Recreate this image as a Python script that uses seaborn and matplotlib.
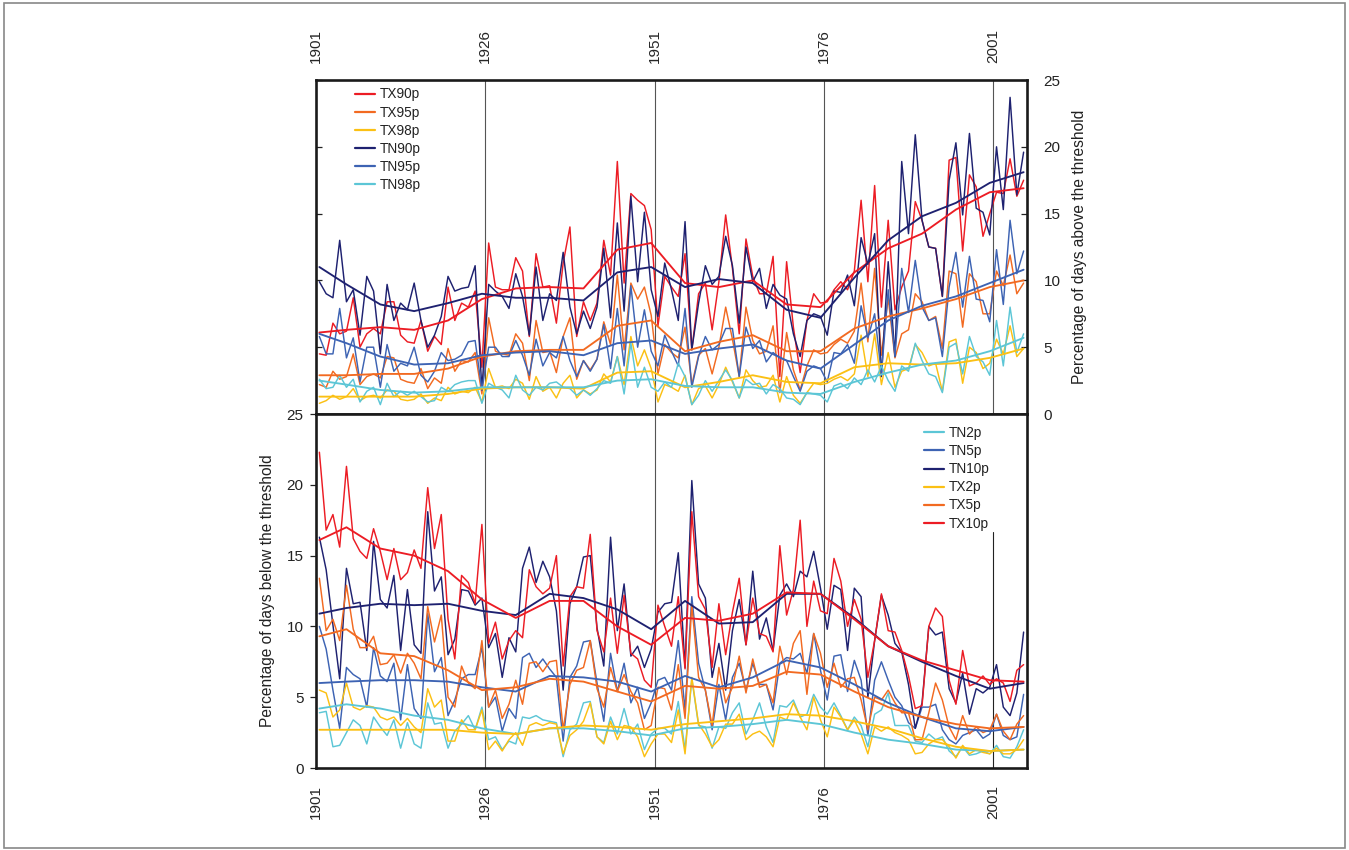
import matplotlib
matplotlib.use("Agg")
import matplotlib.pyplot as plt
import seaborn as sns
import pandas as pd
from matplotlib.patches import Rectangle
from matplotlib.lines import Line2D

# ---------------- data ----------------
years = list(range(1901, 2006))
tick_years = [1901, 1926, 1951, 1976, 2001]
smooth_years = [1901, 1905, 1910, 1915, 1920, 1925, 1930, 1935, 1940, 1945, 1950,
                1955, 1960, 1965, 1970, 1975, 1980, 1985, 1990, 1995, 2000, 2005]

# upper panel: percentage of days above the threshold
TX90p = [4.5, 4.4, 6.8, 6.0, 6.2, 8.7, 5.0, 6.0, 6.4, 6.0,
         8.4, 8.4, 5.9, 5.4, 5.3, 7.0, 4.7, 5.8, 5.2, 9.5,
         7.0, 8.3, 8.0, 9.2, 3.5, 12.8, 9.5, 9.3, 9.3, 11.7,
         10.7, 5.8, 12.0, 9.5, 9.6, 6.8, 11.3, 14.0, 5.8, 8.4,
         7.0, 8.3, 13.0, 10.4, 18.9, 9.8, 16.5, 16.0, 15.6, 13.8,
         6.6, 10.3, 9.5, 8.8, 12.0, 4.8, 9.0, 9.8, 6.3, 9.9,
         14.9, 10.9, 6.0, 13.1, 10.3, 9.0, 9.0, 11.8, 2.8, 11.4,
         6.5, 3.1, 7.0, 9.0, 8.3, 8.4, 9.3, 9.9, 9.3, 10.7,
         16.0, 9.9, 17.1, 8.0, 14.5, 7.8, 9.5, 10.7, 15.9, 14.5,
         12.5, 12.4, 8.8, 19.0, 19.2, 12.2, 17.9, 17.0, 13.3, 15.0,
         16.6, 16.5, 19.1, 16.3, 17.5]
TX95p = [2.2, 2.0, 3.2, 2.6, 2.8, 4.5, 2.2, 2.8, 3.0, 2.7,
         4.3, 4.2, 2.6, 2.4, 2.3, 3.4, 1.9, 2.7, 2.3, 4.9,
         3.2, 4.0, 3.9, 4.6, 1.5, 7.2, 4.7, 4.5, 4.4, 6.0,
         5.3, 2.5, 7.0, 4.6, 4.7, 3.1, 5.8, 7.2, 2.6, 4.0,
         3.3, 4.1, 6.9, 5.2, 10.4, 4.8, 9.8, 8.6, 9.5, 7.4,
         3.0, 5.2, 4.6, 4.2, 6.5, 2.2, 4.4, 4.9, 3.0, 5.0,
         8.0, 5.6, 2.8, 8.0, 5.5, 4.5, 4.7, 6.6, 1.6, 6.1,
         3.3, 1.8, 3.6, 4.8, 4.5, 4.6, 5.2, 5.6, 5.3, 6.2,
         9.8, 5.4, 10.9, 4.4, 8.7, 4.2, 6.0, 6.3, 9.0, 8.4,
         7.0, 7.3, 4.9, 10.7, 10.5, 6.5, 10.5, 9.9, 7.5, 7.5,
         10.7, 9.6, 11.9, 9.0, 9.8]
TX98p = [0.8, 1.0, 1.4, 1.1, 1.3, 1.9, 1.0, 1.3, 1.4, 1.2,
         1.8, 1.7, 1.1, 1.0, 1.1, 1.5, 0.8, 1.2, 1.0, 2.0,
         1.5, 1.7, 1.6, 2.0, 0.9, 3.4, 2.0, 2.1, 1.9, 2.6,
         2.3, 1.1, 2.8, 1.7, 2.0, 1.2, 2.3, 2.9, 1.2, 1.8,
         1.5, 1.8, 3.0, 2.4, 4.3, 2.2, 5.8, 3.6, 4.8, 3.4,
         0.9, 2.2, 2.0, 1.7, 2.9, 0.7, 1.9, 2.1, 1.2, 2.2,
         3.5, 2.4, 1.2, 3.3, 2.5, 2.0, 2.1, 2.9, 0.9, 2.8,
         1.4, 0.8, 1.6, 2.3, 2.2, 2.3, 2.6, 2.8, 2.5, 3.0,
         5.9, 2.8, 6.0, 2.2, 4.6, 2.0, 3.2, 3.4, 5.2, 4.6,
         3.6, 3.8, 1.7, 5.4, 5.6, 2.3, 5.0, 4.6, 3.4, 3.8,
         5.6, 4.5, 6.6, 4.3, 4.9]
TN90p = [9.9, 9.0, 8.7, 13.0, 8.4, 9.3, 5.9, 10.3, 9.2, 4.5,
         9.7, 7.0, 8.3, 7.8, 9.8, 7.0, 5.0, 5.9, 7.3, 10.3,
         9.2, 9.4, 9.5, 11.1, 1.8, 9.7, 9.2, 8.8, 7.9, 10.5,
         8.8, 5.9, 11.0, 7.0, 9.0, 8.5, 12.1, 8.0, 6.0, 7.7,
         6.4, 8.0, 12.4, 7.2, 14.3, 7.7, 16.3, 9.9, 15.1, 9.3,
         7.3, 11.3, 9.3, 7.0, 14.4, 4.8, 8.3, 11.1, 9.7, 10.3,
         13.3, 11.1, 6.8, 12.5, 9.9, 10.9, 7.9, 9.7, 8.9, 8.6,
         6.0, 4.3, 7.0, 7.5, 7.3, 5.9, 9.2, 9.1, 10.4, 8.1,
         13.2, 11.2, 13.5, 2.8, 11.4, 4.3, 18.9, 13.5, 20.9, 14.5,
         12.5, 12.4, 8.8, 17.5, 20.3, 14.9, 21.0, 15.4, 15.1, 13.4,
         20.0, 15.3, 23.7, 16.4, 19.6]
TN95p = [5.8, 4.5, 4.5, 7.9, 4.2, 5.7, 2.4, 5.0, 5.0, 2.0,
         5.2, 3.2, 3.8, 3.6, 5.0, 2.9, 2.4, 3.2, 4.6, 4.0,
         4.1, 4.4, 5.4, 5.5, 1.8, 5.0, 5.0, 4.3, 4.3, 5.5,
         4.4, 2.9, 5.6, 3.6, 4.6, 4.2, 5.8, 4.0, 2.8, 4.0,
         3.2, 4.1, 6.7, 3.4, 7.9, 3.6, 9.6, 5.0, 7.8, 4.7,
         3.6, 5.9, 4.7, 3.6, 7.9, 2.0, 4.3, 5.8, 4.8, 5.2,
         6.4, 6.4, 2.8, 6.5, 4.9, 5.5, 3.9, 4.6, 4.2, 4.0,
         2.8, 1.7, 3.2, 3.6, 3.4, 2.4, 4.6, 4.5, 5.2, 3.8,
         8.1, 5.7, 7.5, 3.0, 9.3, 4.3, 10.9, 7.6, 11.5, 8.0,
         7.0, 7.2, 4.3, 9.5, 12.1, 8.0, 11.8, 8.6, 8.5, 6.9,
         12.3, 8.2, 14.5, 10.5, 12.2]
TN98p = [2.6, 1.9, 2.0, 2.9, 2.0, 2.6, 0.9, 1.7, 2.0, 0.7,
         2.3, 1.3, 1.7, 1.4, 1.7, 1.3, 0.9, 1.0, 2.0, 1.7,
         2.2, 2.4, 2.5, 2.5, 0.8, 2.3, 2.0, 1.8, 1.2, 2.9,
         1.8, 1.4, 2.0, 1.8, 2.3, 2.4, 2.0, 1.9, 1.4, 1.8,
         1.4, 1.9, 2.5, 2.3, 4.3, 1.5, 5.3, 2.0, 3.5, 2.0,
         1.7, 2.4, 2.0, 3.8, 2.8, 0.7, 1.4, 2.5, 1.7, 2.5,
         3.3, 2.5, 1.2, 2.6, 2.2, 2.3, 1.5, 2.2, 1.9, 1.2,
         1.1, 0.7, 1.6, 1.5, 1.4, 0.9, 2.1, 2.3, 1.9, 2.7,
         2.2, 3.3, 2.4, 3.6, 2.5, 1.7, 3.6, 3.2, 5.3, 4.0,
         3.0, 2.8, 1.6, 5.0, 5.3, 3.0, 5.8, 4.3, 3.9, 2.9,
         7.0, 3.6, 8.0, 4.6, 6.0]

# smoothed curves of the upper panel (read every ~5 years)
TX90p_s = [6.1, 6.3, 6.5, 6.3, 7.0, 8.6, 9.4, 9.5, 9.4, 12.3, 12.8,
           9.8, 9.5, 10.0, 8.2, 8.0, 10.6, 12.4, 13.5, 15.3, 16.6, 16.9]
TX95p_s = [2.9, 2.9, 3.0, 3.0, 3.4, 4.3, 4.7, 4.8, 4.8, 6.6, 7.0,
           4.7, 5.4, 5.9, 4.7, 4.7, 6.4, 7.3, 7.9, 8.6, 9.5, 10.0]
TX98p_s = [1.3, 1.3, 1.3, 1.3, 1.5, 1.9, 2.0, 2.0, 1.9, 3.1, 3.2,
           2.0, 2.4, 2.9, 2.4, 2.3, 3.5, 3.8, 3.7, 3.8, 4.2, 4.9]
TN90p_s = [11.0, 9.7, 8.2, 7.7, 8.3, 9.0, 8.7, 8.7, 8.5, 10.6, 11.0,
           9.5, 10.1, 9.8, 7.8, 7.2, 10.2, 13.0, 14.8, 15.8, 17.3, 18.1]
TN95p_s = [6.0, 5.3, 4.3, 3.7, 3.8, 4.4, 4.6, 4.7, 4.4, 5.3, 5.5,
           4.5, 4.9, 5.2, 4.0, 3.4, 5.2, 7.0, 8.1, 8.8, 9.8, 10.8]
TN98p_s = [2.5, 2.2, 1.8, 1.6, 1.7, 2.0, 2.0, 2.0, 2.0, 2.5, 2.6,
           2.1, 2.0, 2.0, 1.6, 1.5, 2.4, 3.1, 3.7, 4.0, 4.7, 5.7]

# lower panel: percentage of days below the threshold
TN2p = [3.9, 4.0, 1.5, 1.6, 2.5, 3.4, 3.0, 1.7, 3.6, 2.9,
        2.3, 3.4, 1.4, 3.2, 1.7, 1.4, 4.6, 3.1, 3.2, 1.4,
        2.6, 3.1, 3.7, 2.7, 4.3, 2.0, 2.2, 1.3, 1.9, 1.7,
        3.6, 3.5, 3.7, 3.4, 3.3, 3.2, 0.8, 2.7, 3.1, 4.6,
        4.7, 2.2, 1.8, 3.6, 2.4, 4.2, 2.4, 3.1, 1.3, 2.4,
        2.8, 2.8, 2.4, 4.7, 1.3, 6.3, 3.0, 2.9, 1.4, 2.9,
        2.8, 3.9, 4.6, 2.4, 3.4, 4.6, 2.9, 1.8, 4.4, 4.3,
        4.8, 3.6, 3.8, 5.2, 4.3, 3.8, 4.6, 3.7, 2.7, 3.6,
        3.0, 1.5, 3.8, 4.1, 5.3, 3.0, 3.0, 3.0, 1.9, 1.8,
        2.4, 2.0, 2.2, 1.2, 0.8, 1.5, 0.9, 1.0, 1.2, 1.0,
        1.6, 0.8, 0.7, 1.5, 2.7]
TN5p = [10.0, 8.4, 5.5, 2.8, 7.1, 6.6, 6.3, 4.3, 8.5, 6.5,
        6.1, 7.4, 3.4, 7.3, 4.2, 3.5, 10.9, 6.8, 7.8, 3.7,
        4.8, 6.3, 6.6, 6.6, 8.5, 4.3, 5.0, 2.6, 4.2, 3.5,
        7.8, 8.1, 7.1, 7.7, 7.0, 6.4, 1.9, 6.4, 7.2, 8.9,
        9.0, 6.0, 3.3, 8.1, 5.4, 7.4, 4.6, 5.7, 3.5, 4.6,
        6.2, 6.4, 5.5, 9.0, 4.1, 12.1, 7.4, 5.5, 2.7, 5.9,
        3.4, 6.4, 7.4, 5.5, 7.4, 5.9, 5.9, 4.1, 7.4, 7.8,
        7.7, 8.1, 6.7, 9.5, 6.9, 4.8, 7.9, 8.0, 5.4, 7.6,
        6.2, 2.3, 6.2, 7.5, 6.2, 5.0, 4.4, 3.2, 2.8, 4.3,
        4.3, 4.5, 2.7, 2.0, 1.7, 2.3, 2.5, 2.7, 2.1, 2.4,
        3.8, 2.3, 2.0, 2.2, 5.2]
TN10p = [16.3, 14.0, 10.1, 6.3, 14.1, 11.6, 11.7, 8.3, 16.0, 11.9,
         11.3, 13.6, 8.3, 12.6, 8.7, 8.1, 18.1, 12.5, 13.5, 8.0,
         9.1, 12.6, 12.5, 11.5, 12.0, 8.5, 9.5, 6.4, 9.2, 8.2,
         14.1, 15.6, 13.1, 14.6, 13.5, 11.1, 5.5, 11.6, 12.8, 14.9,
         15.0, 9.9, 7.2, 16.3, 9.7, 13.0, 7.9, 8.6, 7.1, 8.4,
         11.0, 11.6, 11.7, 15.2, 7.1, 20.3, 13.0, 12.0, 6.4, 8.8,
         5.5, 9.7, 11.9, 8.7, 13.9, 9.1, 10.6, 8.3, 12.2, 13.0,
         12.1, 13.9, 13.5, 15.3, 12.7, 9.8, 12.9, 12.6, 8.3, 12.7,
         12.1, 5.0, 9.0, 12.2, 10.8, 8.8, 8.2, 5.9, 2.8, 4.6,
         10.0, 9.4, 9.6, 5.6, 4.6, 6.7, 3.8, 5.6, 5.3, 5.7,
         7.3, 4.3, 3.7, 5.3, 9.6]
TX2p = [5.5, 5.3, 3.6, 4.1, 6.0, 4.3, 4.1, 4.4, 4.3, 3.6,
        3.4, 3.6, 3.0, 3.5, 2.9, 2.5, 5.6, 4.3, 4.8, 1.9,
        1.9, 3.4, 2.7, 2.7, 4.1, 1.3, 1.9, 1.2, 2.0, 2.5,
        1.6, 3.0, 3.2, 3.0, 3.2, 3.1, 1.0, 2.3, 2.7, 3.3,
        4.6, 2.2, 1.7, 3.3, 2.0, 3.0, 2.9, 2.2, 0.8, 1.7,
        2.4, 2.4, 1.8, 4.1, 1.0, 6.4, 3.1, 2.4, 1.5, 2.0,
        3.1, 3.1, 3.8, 2.0, 2.4, 2.6, 2.2, 1.5, 3.6, 3.4,
        4.6, 3.6, 2.7, 5.0, 3.4, 2.2, 4.3, 3.6, 2.7, 3.4,
        2.4, 1.0, 2.9, 2.6, 2.9, 2.5, 2.3, 2.0, 1.0, 1.1,
        1.7, 2.0, 2.0, 1.5, 0.7, 1.6, 1.0, 1.3, 1.1, 1.0,
        1.4, 1.0, 1.0, 1.3, 2.0]
TX5p = [13.4, 9.7, 10.5, 9.0, 12.9, 9.8, 8.5, 8.5, 9.3, 7.3,
        7.4, 8.0, 6.7, 8.1, 7.4, 6.3, 11.4, 8.9, 10.8, 5.0,
        4.3, 7.2, 6.0, 5.6, 9.0, 4.3, 5.5, 3.5, 4.5, 6.2,
        4.5, 7.4, 7.5, 6.8, 7.5, 7.6, 2.7, 5.9, 6.9, 7.1,
        9.0, 5.6, 4.3, 7.1, 5.4, 6.6, 5.4, 4.6, 2.7, 3.0,
        5.7, 5.6, 4.1, 7.3, 3.5, 11.5, 6.4, 5.5, 3.0, 7.1,
        4.6, 5.7, 7.9, 5.3, 7.7, 5.7, 5.9, 4.6, 8.6, 6.6,
        8.8, 9.7, 5.2, 9.5, 8.1, 5.7, 7.4, 5.7, 6.3, 6.4,
        4.8, 2.7, 5.0, 4.8, 5.5, 4.6, 3.9, 3.9, 2.0, 2.0,
        3.9, 6.0, 4.8, 2.9, 2.0, 3.7, 2.4, 2.9, 2.5, 2.7,
        3.8, 2.6, 2.0, 3.1, 3.7]
TX10p = [22.3, 16.8, 17.9, 15.6, 21.3, 16.2, 15.3, 14.8, 16.9, 15.3,
         13.3, 15.5, 13.3, 13.8, 15.4, 14.1, 19.8, 15.5, 17.9, 10.5,
         7.7, 13.6, 13.1, 11.6, 17.2, 8.8, 10.3, 7.7, 9.0, 9.7,
         9.2, 14.0, 12.8, 12.3, 12.7, 15.0, 7.2, 12.1, 12.8, 12.7,
         16.5, 9.7, 8.2, 12.0, 8.1, 12.2, 8.1, 7.7, 6.2, 5.7,
         11.5, 10.0, 8.6, 12.1, 7.0, 18.1, 12.1, 11.2, 7.1, 11.6,
         8.0, 11.0, 13.4, 8.7, 12.0, 9.5, 9.3, 8.2, 15.7, 10.8,
         12.6, 17.5, 10.0, 13.2, 11.1, 10.9, 14.8, 13.2, 10.0, 11.9,
         10.5, 6.4, 9.0, 12.3, 9.7, 9.6, 8.3, 6.5, 4.2, 4.4,
         10.0, 11.3, 10.7, 6.2, 4.5, 8.3, 5.8, 6.0, 6.5, 5.9,
         6.3, 6.0, 4.7, 6.9, 7.3]

# smoothed curves of the lower panel
TN2p_s = [4.2, 4.5, 4.2, 3.7, 3.4, 2.8, 2.4, 2.8, 2.8, 2.6, 2.3,
          2.8, 2.9, 3.1, 3.4, 3.1, 2.5, 2.0, 1.7, 1.3, 1.2, 1.3]
TN5p_s = [6.0, 6.1, 6.2, 6.2, 6.1, 5.7, 5.4, 6.5, 6.4, 6.1, 5.4,
          6.5, 5.7, 6.4, 7.6, 7.1, 5.9, 4.6, 3.6, 2.8, 2.6, 2.9]
TN10p_s = [10.9, 11.3, 11.6, 11.5, 11.6, 11.1, 10.8, 12.3, 12.0, 11.2, 9.8,
           11.8, 10.2, 10.3, 12.3, 12.3, 10.6, 8.6, 7.5, 6.5, 5.6, 6.0]
TX2p_s = [2.7, 2.7, 2.7, 2.7, 2.7, 2.5, 2.4, 2.8, 3.0, 2.9, 2.7,
          3.1, 3.3, 3.5, 3.8, 3.7, 3.3, 2.8, 2.1, 1.5, 1.2, 1.3]
TX5p_s = [9.3, 9.8, 8.1, 7.9, 6.9, 5.5, 5.7, 6.3, 6.1, 5.4, 4.7,
          5.8, 5.6, 5.8, 6.8, 6.6, 5.4, 4.3, 3.6, 3.1, 2.8, 2.9]
TX10p_s = [16.1, 17.0, 15.5, 15.0, 13.9, 11.9, 10.6, 11.8, 11.8, 10.0, 8.7,
           10.6, 10.4, 10.9, 12.4, 12.3, 10.5, 8.6, 7.6, 6.9, 6.2, 6.1]

upper_names = ["TX90p", "TX95p", "TX98p", "TN90p", "TN95p", "TN98p"]
lower_names = ["TN2p", "TN5p", "TN10p", "TX2p", "TX5p", "TX10p"]

RED, ORANGE, YELLOW = "#EC1C24", "#F26A21", "#FBC014"
NAVY, BLUE, CYAN = "#1E2170", "#3D63B3", "#5CC6D6"

upper_colors = {"TX90p": RED, "TX95p": ORANGE, "TX98p": YELLOW,
                "TN90p": NAVY, "TN95p": BLUE, "TN98p": CYAN}
lower_colors = {"TN2p": CYAN, "TN5p": BLUE, "TN10p": NAVY,
                "TX2p": YELLOW, "TX5p": ORANGE, "TX10p": RED}

df_up = pd.DataFrame({"year": years, "TX90p": TX90p, "TX95p": TX95p, "TX98p": TX98p,
                      "TN90p": TN90p, "TN95p": TN95p, "TN98p": TN98p})
df_up_s = pd.DataFrame({"year": smooth_years, "TX90p": TX90p_s, "TX95p": TX95p_s,
                        "TX98p": TX98p_s, "TN90p": TN90p_s, "TN95p": TN95p_s,
                        "TN98p": TN98p_s})
df_lo = pd.DataFrame({"year": years, "TN2p": TN2p, "TN5p": TN5p, "TN10p": TN10p,
                      "TX2p": TX2p, "TX5p": TX5p, "TX10p": TX10p})
df_lo_s = pd.DataFrame({"year": smooth_years, "TN2p": TN2p_s, "TN5p": TN5p_s,
                        "TN10p": TN10p_s, "TX2p": TX2p_s, "TX5p": TX5p_s,
                        "TX10p": TX10p_s})

# ---------------- style ----------------
sns.set_style("white")
plt.rcParams["font.family"] = ["Liberation Sans", "DejaVu Sans"]

fig = plt.figure(figsize=(13.49, 8.5), dpi=100)
W, H = 1349.0, 850.0
left, right = 316 / W, 1027 / W
ax_up = fig.add_axes([left, 1 - 414 / H, right - left, (414 - 80) / H])
ax_lo = fig.add_axes([left, 1 - 768 / H, right - left, (768 - 414) / H])

xmin, xmax = 1900.5, 2005.5
tick_pos = [y - 0.5 for y in tick_years]

def draw(ax, df, dfs, names, colors):
    for n in names:
        sns.lineplot(data=df, x="year", y=n, color=colors[n], lw=1.05, ax=ax,
                     legend=False, zorder=3)
    for n in names:
        sns.lineplot(data=dfs, x="year", y=n, color=colors[n], lw=1.35, ax=ax,
                     legend=False, zorder=4)

draw(ax_up, df_up, df_up_s, upper_names, upper_colors)
draw(ax_lo, df_lo, df_lo_s, lower_names, lower_colors)

for ax in (ax_up, ax_lo):
    ax.set_xlim(xmin, xmax)
    ax.set_ylim(0, 25)
    ax.set_xticks(tick_pos)
    ax.set_xticklabels([str(t) for t in tick_years], rotation=90, fontsize=11)
    ax.set_yticks([0, 5, 10, 15, 20, 25])
    ax.set_xlabel("")
    for s in ax.spines.values():
        s.set_linewidth(1.9)
        s.set_color("#1a1a1a")
        s.set_visible(True)

# vertical reference lines
for t in tick_pos[1:]:
    ax_up.axvline(t, color="#555555", lw=0.8, zorder=1)
for t in tick_pos[1:-1]:
    ax_lo.axvline(t, color="#555555", lw=0.8, zorder=1)
ax_lo.axvline(tick_pos[-1], ymin=0, ymax=0.667, color="#222222", lw=0.8, zorder=1)

# upper axes ticks
ax_up.xaxis.tick_top()
ax_up.tick_params(axis="x", which="both", top=True, bottom=False, length=0, pad=12,
                  labelsize=11)
ax_up.tick_params(axis="y", which="both", left=True, right=True, labelleft=False,
                  labelright=True, direction="in", length=4, width=0.9, pad=12,
                  labelsize=11, colors="#222222")
ax_up.yaxis.set_label_position("right")
ax_up.set_ylabel("Percentage of days above the threshold", fontsize=11.2,
                 labelpad=8, color="#222222")

# lower axes ticks
ax_lo.tick_params(axis="x", which="both", bottom=True, top=False, length=0, pad=12,
                  labelsize=11)
ax_lo.tick_params(axis="y", which="both", left=True, right=False, direction="out",
                  length=4, width=0.9, pad=5, labelsize=11, colors="#222222")
ax_lo.set_ylabel("Percentage of days below the threshold", fontsize=11.2,
                 labelpad=8, color="#222222")

# legends
def legend(ax, names, colors, anchor):
    handles = [Line2D([0], [0], color=colors[n], lw=1.6) for n in names]
    leg = ax.legend(handles, names, loc="upper left", bbox_to_anchor=anchor,
                    frameon=False, fontsize=9.8, handlelength=1.5, handletextpad=0.35,
                    labelspacing=0.3, borderaxespad=0.2, borderpad=0.3)
    for t in leg.get_texts():
        t.set_color("#222222")

legend(ax_up, upper_names, upper_colors, (0.045, 0.998))
legend(ax_lo, lower_names, lower_colors, (0.845, 0.985))

# outer frame
fig.patches.append(Rectangle((0.003, 0.002), 0.994, 0.995, transform=fig.transFigure,
                             fill=False, edgecolor="#888888", lw=1.2))

fig.savefig("out.png", dpi=100)
